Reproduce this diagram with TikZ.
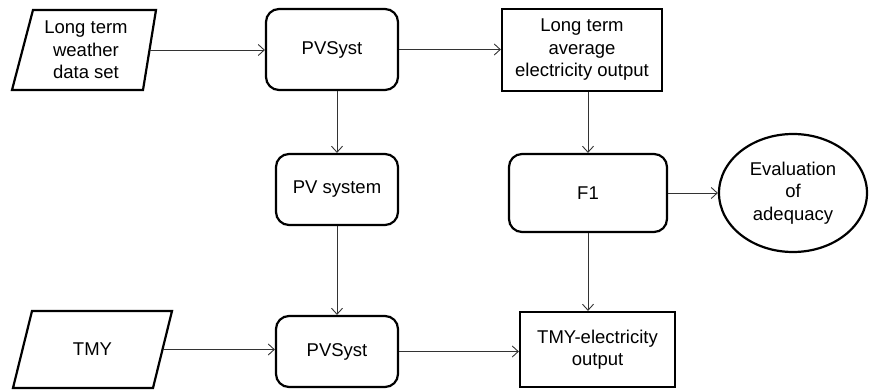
\documentclass[tikz,border=0pt]{standalone}
\usepackage{fontspec}
\setmainfont{Liberation Sans}
\usetikzlibrary{arrows.meta,shapes.geometric}
\begin{document}
\begin{tikzpicture}[x=1pt,y=-1pt,
  txt/.style={align=center,font=\fontsize{18.5}{22.5}\selectfont,inner sep=0pt},
  box/.style={txt,draw=black,line width=2.2pt},
  rbox/.style={box,rounded corners=13pt},
  sbox/.style={box},
  ell/.style={box,ellipse},
  shapeline/.style={draw=black,line width=2.2pt,line join=miter},
  conn/.style={draw=black!80,line width=0.9pt,-{Straight Barb[length=6pt,width=11pt,line width=0.9pt]}}
]
\useasboundingbox (0,0) rectangle (870,390);

% nodes
\node[txt,minimum width=127pt,minimum height=80pt] (lw) at (86,50) {Long term\\weather\\data set};
\draw[shapeline,shift={(lw.center)}] (-53,-40) -- (70,-40) -- (57,40) -- (-74,40) -- cycle;

\node[txt,minimum width=140pt,minimum height=77pt] (tmy) at (92.5,349.5) {TMY};
\draw[shapeline,shift={(tmy.center)}] (-60.5,-38.5) -- (79.5,-38.5) -- (60.5,38.5) -- (-79.5,38.5) -- cycle;

\node[rbox,minimum width=132pt,minimum height=81pt] (pvs1) at (332,49.5) {PVSyst};
\node[sbox,minimum width=160pt,minimum height=82pt] (lt) at (582,50) {Long term\\average\\electricity output};
\node[rbox,minimum width=122pt,minimum height=71pt] (pvsys) at (337,189.5) {PV system};
\node[rbox,minimum width=122pt,minimum height=71pt] (pvs2) at (337,351.5) {PVSyst};
\node[rbox,minimum width=158pt,minimum height=78pt] (f1) at (588,193) {F1};
\node[sbox,minimum width=155pt,minimum height=75pt] (tmye) at (597.5,349.5) {TMY-electricity\\output};
\node[ell,minimum width=148pt,minimum height=118pt] (eval) at (793,193) {Evaluation\\of\\adequacy};

% connectors
\draw[conn] (lw.east) -- (lw.east -| pvs1.west);
\draw[conn] (pvs1.east) -- (pvs1.east -| lt.west);
\draw[conn] (pvsys.north |- pvs1.south) -- (pvsys.north);
\draw[conn] (pvsys.south) -- (pvs2.north);
\draw[conn] (f1.north |- lt.south) -- (f1.north);
\draw[conn] (f1.east) -- (eval.west);
\draw[conn] (f1.south) -- (f1.south |- tmye.north);
\draw[conn] (tmy.east) -- (tmy.east -| pvs2.west);
\draw[conn] (pvs2.east) -- (pvs2.east -| tmye.west);
\end{tikzpicture}
\end{document}
